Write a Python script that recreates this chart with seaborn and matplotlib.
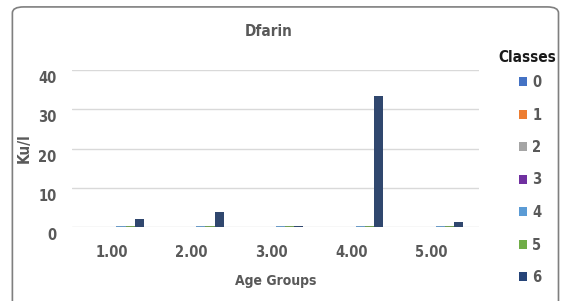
import matplotlib
matplotlib.use("Agg")
import matplotlib.pyplot as plt
import matplotlib.transforms as mtransforms
from matplotlib.patches import FancyBboxPatch, Patch
import seaborn as sns
import pandas as pd

age_groups = ["1.00", "2.00", "3.00", "4.00", "5.00"]
classes = ["0", "1", "2", "3", "4", "5", "6"]
class0 = [0, 0, 0, 0, 0]
class1 = [0, 0, 0, 0, 0]
class2 = [0, 0, 0, 0, 0]
class3 = [0, 0, 0, 0, 0]
class4 = [0.3, 0.2, 0.2, 0.2, 0.2]
class5 = [0.3, 0.3, 0.3, 0.3, 0.3]
class6 = [2.0, 3.7, 0.3, 33.5, 1.3]
colors = ["#4472C4", "#ED7D31", "#A5A5A5", "#7030A0", "#5B9BD5", "#70AD47", "#264478"]

series = [class0, class1, class2, class3, class4, class5, class6]
rows = []
for c, vals in zip(classes, series):
    for g, v in zip(age_groups, vals):
        rows.append({"Age Groups": g, "Class": c, "Ku/l": v})
df = pd.DataFrame(rows)

sns.set_theme(style="white")
plt.rcParams["font.family"] = ["DejaVu Sans"]
plt.rcParams["font.stretch"] = "condensed"

fig = plt.figure(figsize=(5.63, 3.01), dpi=100)
frame = FancyBboxPatch((0.022, -0.05), 0.970, 1.027, boxstyle="round,pad=0,rounding_size=0.02",
                       transform=fig.transFigure, facecolor="white", edgecolor="#7f7f7f",
                       linewidth=1.2, zorder=-1)
fig.patches.append(frame)

ax = fig.add_axes([72 / 563, 74 / 301, 407 / 563, 157 / 301])
ax.set_facecolor("none")
sns.barplot(data=df, x="Age Groups", y="Ku/l", hue="Class", hue_order=classes,
            palette=colors, order=age_groups, ax=ax, legend=False, width=0.8,
            edgecolor="none")
ax.set_ylim(0, 40)
ax.set_xlim(-0.5, 4.6)
ax.set_yticks([0, 10, 20, 30, 40])
ax.yaxis.grid(True, color="#d9d9d9", linewidth=1)
ax.set_axisbelow(True)
for s in ax.spines.values():
    s.set_visible(False)
tc = "#595959"
ax.tick_params(axis="both", length=0, labelsize=10.5, colors=tc)
ax.tick_params(axis="y", pad=11)
ax.tick_params(axis="x", pad=13)
offset = mtransforms.ScaledTranslation(0, -0.07, fig.dpi_scale_trans)
for lab in ax.get_yticklabels():
    lab.set_transform(lab.get_transform() + offset)
for lab in ax.get_xticklabels() + ax.get_yticklabels():
    lab.set_fontweight("bold")
ax.set_xlabel("Age Groups", fontsize=10, color=tc, fontweight="bold", labelpad=10)
ax.set_ylabel("Ku/l", fontsize=11, color=tc, fontweight="bold", labelpad=5)
fig.text(269 / 563, 1 - 31 / 301, "Dfarin", ha="center", va="center", fontsize=11,
         color=tc, fontweight="bold")
fig.text(527 / 563, 1 - 58 / 301, "Classes", ha="center", va="center", fontsize=11,
         color="#1a1a1a", fontweight="bold")

handles = [Patch(facecolor=c, edgecolor="none") for c in colors]
leg = fig.legend(handles, classes, loc="upper left",
                 bbox_to_anchor=(0.921, 1 - 75 / 301), frameon=False, fontsize=10.5,
                 handlelength=0.6, handleheight=0.6, handletextpad=0.35,
                 labelspacing=1.2, borderaxespad=0, borderpad=0)
for t in leg.get_texts():
    t.set_color(tc)
    t.set_fontweight("bold")
fig.savefig("out.png", dpi=100)
